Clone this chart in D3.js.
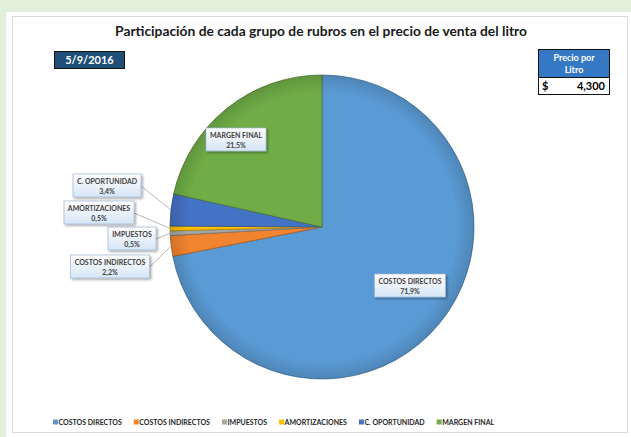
<!DOCTYPE html>
<html>
<head>
<meta charset="utf-8">
<script src="https://cdn.jsdelivr.net/npm/d3@7"></script>
<style>
  html, body { margin: 0; padding: 0; background: #e2efda; }
  svg { display: block; font-family: Lato, "Open Sans", sans-serif; }
</style>
</head>
<body>
<svg id="chart" width="631" height="437"></svg>
<script>
// data
const categories = ["COSTOS DIRECTOS", "COSTOS INDIRECTOS", "IMPUESTOS", "AMORTIZACIONES", "C. OPORTUNIDAD", "MARGEN FINAL"];
const shares = [71.9, 2.2, 0.5, 0.5, 3.4, 21.5];
const colours = ["#5b9bd5", "#f2832f", "#a5a5a5", "#ffc000", "#4472c4", "#70ad47"];
const fecha = "5/9/2016";
const precioLitro = 4300;
const titulo = "Participación de cada grupo de rubros en el precio de venta del litro";

// label box placement, offset from the pie centre
const labelOffsets = {
  "COSTOS DIRECTOS": [88, 59],
  "COSTOS INDIRECTOS": [-212, 40],
  "IMPUESTOS": [-190, 12],
  "AMORTIZACIONES": [-223, -14],
  "C. OPORTUNIDAD": [-215, -41],
  "MARGEN FINAL": [-86, -87]
};
const outside = ["COSTOS INDIRECTOS", "IMPUESTOS", "AMORTIZACIONES", "C. OPORTUNIDAD"];

const data = categories.map((c, i) => ({ name: c, value: shares[i], colour: colours[i] }));

const svg = d3.select("#chart");
const dims = { radius: 152 };
const center = { x: 322, y: 227 };

const defs = svg.append("defs");

const boxGrad = defs.append("linearGradient")
  .attr("id", "boxGrad").attr("x1", 0).attr("y1", 0).attr("x2", 0).attr("y2", 1);
boxGrad.append("stop").attr("offset", "0%").attr("stop-color", "#ffffff");
boxGrad.append("stop").attr("offset", "100%").attr("stop-color", "#d6e5f6");

const rim = defs.append("radialGradient").attr("id", "rim");
rim.append("stop").attr("offset", "88%").attr("stop-color", "#000").attr("stop-opacity", 0);
rim.append("stop").attr("offset", "100%").attr("stop-color", "#000").attr("stop-opacity", 0.14);

const shadow = defs.append("filter").attr("id", "shadow")
  .attr("x", "-20%").attr("y", "-20%").attr("width", "150%").attr("height", "160%");
shadow.append("feDropShadow").attr("dx", 1.5).attr("dy", 1.5).attr("stdDeviation", 1)
  .attr("flood-color", "#000").attr("flood-opacity", 0.35);

// panels
svg.append("rect").attr("x", 6).attr("y", 12).attr("width", 625).attr("height", 425).attr("fill", "#fff");
svg.append("rect").attr("x", 12.5).attr("y", 16.5).attr("width", 615).attr("height", 416)
  .attr("fill", "#fff").attr("stroke", "#d9d9d9");

// title
svg.append("text")
  .attr("x", 321).attr("y", 36)
  .attr("text-anchor", "middle")
  .attr("font-size", 13.8).attr("font-weight", "bold").attr("fill", "#1a1a1a")
  .text(titulo);

// date box
svg.append("rect").attr("x", 54.5).attr("y", 51.5).attr("width", 70).attr("height", 17)
  .attr("fill", "#1f4e79").attr("stroke", "#111");
svg.append("text").attr("x", 89.5).attr("y", 64).attr("text-anchor", "middle")
  .attr("font-size", 11).attr("font-weight", "bold").attr("fill", "#fff").text(fecha);

// price box
svg.append("rect").attr("x", 538.5).attr("y", 49.5).attr("width", 71).attr("height", 28)
  .attr("fill", "#3579c4").attr("stroke", "#111");
svg.append("text").attr("x", 574).attr("y", 61).attr("text-anchor", "middle")
  .attr("font-size", 9).attr("font-weight", "bold").attr("fill", "#fff").text("Precio por");
svg.append("text").attr("x", 574).attr("y", 73).attr("text-anchor", "middle")
  .attr("font-size", 9).attr("font-weight", "bold").attr("fill", "#fff").text("Litro");
svg.append("rect").attr("x", 538.5).attr("y", 77.5).attr("width", 71).attr("height", 17)
  .attr("fill", "#fff").attr("stroke", "#111");
svg.append("text").attr("x", 542).attr("y", 90)
  .attr("font-size", 11).attr("font-weight", "bold").attr("fill", "#000").text("$");
svg.append("text").attr("x", 605).attr("y", 90).attr("text-anchor", "end")
  .attr("font-size", 11).attr("font-weight", "bold").attr("fill", "#000")
  .text(d3.format(",")(precioLitro));

// pie
const pieGraph = svg.append("g")
  .attr("transform", `translate(${center.x}, ${center.y})`);

const pie = d3.pie().sort(null).value((d) => d.value);
const arcPath = d3.arc().outerRadius(dims.radius).innerRadius(0);
const arcs = pie(data);

pieGraph.selectAll("path.arc")
  .data(arcs)
  .enter()
  .append("path")
  .attr("class", "arc")
  .attr("d", arcPath)
  .attr("fill", (d) => d.data.colour)
  .attr("stroke", (d) => d3.color(d.data.colour).darker(1))
  .attr("stroke-width", 0.8);

pieGraph.append("circle").attr("r", dims.radius).attr("fill", "url(#rim)");

// labels + leader lines
const fmtPct = (v) => d3.format(".1f")(v).replace(".", ",") + "%";
const labelG = svg.append("g");

arcs.forEach((d) => {
  const [ox, oy] = labelOffsets[d.data.name];
  const bx = center.x + ox;
  const by = center.y + oy;
  const g = labelG.append("g").attr("transform", `translate(${bx}, ${by})`);

  const t1 = g.append("text").attr("text-anchor", "middle").attr("y", -2)
    .attr("font-size", 7).attr("font-weight", "bold").attr("fill", "#404040")
    .text(d.data.name);
  g.append("text").attr("text-anchor", "middle").attr("y", 8)
    .attr("font-size", 7).attr("font-weight", "bold").attr("fill", "#404040")
    .text(fmtPct(d.data.value));

  const w = Math.round(t1.node().getComputedTextLength() + 8);
  const h = 23;

  if (outside.includes(d.data.name)) {
    const mid = (d.startAngle + d.endAngle) / 2;
    const px = center.x + dims.radius * Math.sin(mid);
    const py = center.y - dims.radius * Math.cos(mid);
    labelG.insert("line", ":first-child")
      .attr("x1", bx + w / 2).attr("y1", by)
      .attr("x2", px).attr("y2", py)
      .attr("stroke", "#a6a6a6").attr("stroke-width", 0.8);
  }

  g.insert("rect", ":first-child")
    .attr("x", -w / 2).attr("y", -h / 2 - 0.5).attr("width", w).attr("height", h)
    .attr("fill", "url(#boxGrad)").attr("stroke", "#9fb6d3").attr("stroke-width", 0.7)
    .attr("filter", "url(#shadow)");
});

// legend
const legend = svg.append("g").attr("transform", "translate(53, 425)");
let lx = 0;
data.forEach((d) => {
  const item = legend.append("g").attr("transform", `translate(${lx}, 0)`);
  item.append("rect").attr("x", 0).attr("y", -5.5).attr("width", 5).attr("height", 5)
    .attr("fill", d.colour);
  const t = item.append("text").attr("x", 5.5).attr("y", 0)
    .attr("font-size", 7).attr("fill", "#262626").attr("font-weight", "bold")
    .text(d.name);
  lx += 5.5 + t.node().getComputedTextLength() + 12;
});
</script>
</body>
</html>
